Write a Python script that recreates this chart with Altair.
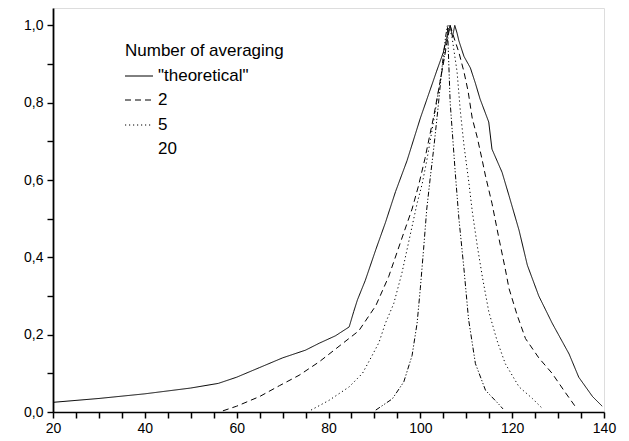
import altair as alt
import pandas as pd

# ---- data ----
theo_x = [20, 30, 40, 50, 56, 60, 65, 70, 75, 78, 81.5, 84.5, 85.5, 86.3, 88, 90.3, 92.4, 94.6, 97.1,
          100, 103.5, 105, 106, 106.5, 107, 107.5, 108, 108.4, 109.5, 110.9, 112, 113, 114.9, 115.6,
          117.8, 119.3, 121.5, 123.3, 125.8, 128.7, 132.4, 134.5, 137.5, 139.6]
theo_y = [0.025, 0.035, 0.047, 0.062, 0.074, 0.09, 0.115, 0.14, 0.16, 0.178, 0.197, 0.22, 0.26, 0.29,
          0.34, 0.42, 0.49, 0.57, 0.65, 0.76, 0.88, 0.93, 0.98, 1.0, 0.97, 1.0, 0.98, 0.96, 0.92, 0.89,
          0.85, 0.81, 0.75, 0.68, 0.62, 0.56, 0.47, 0.38, 0.30, 0.23, 0.15, 0.09, 0.04, 0.015]

avg2_x = [57, 60, 65, 69.3, 73.6, 78, 82.3, 86.6, 90.3, 93.1, 96, 98.2, 99.6, 101, 103, 105, 106, 106.5,
          107, 108.4, 109.5, 110.4, 111.3, 112.4, 113.5, 114.2, 115.6, 117.1, 118.5, 119.3, 121.1,
          122.9, 125.8, 128.7, 131.6, 134]
avg2_y = [0.003, 0.015, 0.04, 0.068, 0.095, 0.13, 0.17, 0.21, 0.275, 0.35, 0.45, 0.525, 0.585, 0.655,
          0.77, 0.9, 0.97, 1.0, 0.98, 0.93, 0.88, 0.83, 0.76, 0.71, 0.65, 0.61, 0.54, 0.45, 0.37, 0.32,
          0.25, 0.19, 0.14, 0.10, 0.05, 0.01]

avg5_x = [76.2, 80.1, 84.5, 87.4, 89.5, 91, 92.4, 94.2, 96, 97.1, 98.2, 99.3, 100.4, 101.4, 103, 104.5,
          105.5, 106.2, 106.9, 108, 108.7, 109.5, 110.5, 111.3, 112.4, 113.5, 114.9, 116.7, 118.5,
          121.5, 124.4, 126.5]
avg5_y = [0.005, 0.03, 0.065, 0.10, 0.146, 0.18, 0.23, 0.28, 0.36, 0.42, 0.48, 0.54, 0.59, 0.65, 0.76,
          0.87, 0.94, 1.0, 0.97, 0.88, 0.78, 0.69, 0.6, 0.52, 0.43, 0.35, 0.26, 0.185, 0.125, 0.065,
          0.035, 0.01]

avg20_x = [90.3, 93.9, 96.4, 98.2, 99.3, 100, 100.7, 101.4, 102.2, 102.9, 103.8, 104.8, 105.5, 105.9,
           106.5, 107.6, 108.4, 109.5, 110.5, 112, 114.2, 117.1, 118]
avg20_y = [0.005, 0.034, 0.078, 0.146, 0.23, 0.32, 0.42, 0.525, 0.61, 0.68, 0.78, 0.9, 0.97, 1.0, 0.8,
           0.62, 0.5, 0.37, 0.24, 0.125, 0.056, 0.02, 0.008]

series_names = ['"theoretical"', "2", "5", "20"]
series_dash = [[1, 0], [6, 4], [1.2, 2.8], [5, 2, 1.2, 2, 1.2, 2]]
legend_title = "Number of averaging"

x_ticks = [20, 25, 30, 35, 40, 45, 50, 55, 60, 65, 70, 75, 80, 85, 90, 95, 100, 105, 110, 115, 120,
           125, 130, 135, 140]
y_ticks = [0.0, 0.1, 0.2, 0.3, 0.4, 0.5, 0.6, 0.7, 0.8, 0.9, 1.0]

# ---- build table ----
rows = []
for name, xs, ys in zip(series_names, [theo_x, avg2_x, avg5_x, avg20_x],
                        [theo_y, avg2_y, avg5_y, avg20_y]):
    for i, (a, b) in enumerate(zip(xs, ys)):
        rows.append({"series": name, "x": a, "y": b, "i": i})
df = pd.DataFrame(rows)
one = pd.DataFrame({"k": [0]})

FONT = "Liberation Sans"
xscale = alt.Scale(domain=[20, 140], nice=False, zero=False)
yscale = alt.Scale(domain=[0, 1.045], nice=False)

x_major = "datum.value % 20 === 0"
y_major = "round(datum.value * 10) % 2 === 0"

lines = alt.Chart(df).mark_line(color="black", strokeWidth=1).encode(
    x=alt.X("x:Q", scale=xscale, title=None,
            axis=alt.Axis(orient="bottom", values=x_ticks, grid=False,
                          tickSize=6, tickWidth=1.5,
                          domainWidth=1.6, domainColor="black", tickColor="black",
                          labelFont=FONT, labelFontSize=14, labelColor="black", labelPadding=3,
                          labelFlush=False, labelOverlap=False,
                          labelExpr=x_major + " ? format(datum.value, 'd') : ''")),
    y=alt.Y("y:Q", scale=yscale, title=None,
            axis=alt.Axis(orient="left", values=y_ticks, grid=False,
                          tickSize=6, tickWidth=1.4,
                          domainWidth=1.8, domainColor="black", tickColor="black",
                          labelFont=FONT, labelFontSize=14, labelColor="black", labelPadding=4,
                          labelOverlap=False,
                          labelExpr=y_major + " ? replace(format(datum.value, '.1f'), '.', ',') : ''")),
    strokeDash=alt.StrokeDash("series:N", scale=alt.Scale(domain=series_names, range=series_dash),
                              legend=None),
    detail="series:N",
    order="i:Q",
)

# ---- manual legend (the "20" entry has no visible sample in the reference) ----
leg_x0, leg_x1, leg_lab = 72, 100, 105
leg_title_y = 43
leg_rows = [68, 92, 117, 141]
LEG_FS = 17
legend_layers = [
    alt.Chart(one).mark_text(align="left", baseline="middle", font=FONT, fontSize=LEG_FS,
                             color="black").encode(
        x=alt.value(leg_x0), y=alt.value(leg_title_y), text=alt.value(legend_title))
]
for k, (name, dash) in enumerate(zip(series_names, series_dash)):
    if name != "20":
        legend_layers.append(
            alt.Chart(one).mark_rule(color="black", strokeWidth=1, strokeDash=dash).encode(
                x=alt.value(leg_x0), x2=alt.value(leg_x1), y=alt.value(leg_rows[k])))
    legend_layers.append(
        alt.Chart(one).mark_text(align="left", baseline="middle", font=FONT, fontSize=LEG_FS,
                                 color="black").encode(
            x=alt.value(leg_lab), y=alt.value(leg_rows[k]), text=alt.value(name)))

chart = alt.layer(lines, *legend_layers).properties(
    width=551, height=404,
    autosize=alt.AutoSizeParams(type="none"),
    padding={"left": 45, "top": 0, "right": 17, "bottom": 28},
).configure_view(stroke=None).configure(background="white")

chart.save("out.html", embed_options={"renderer": "svg", "actions": False})
